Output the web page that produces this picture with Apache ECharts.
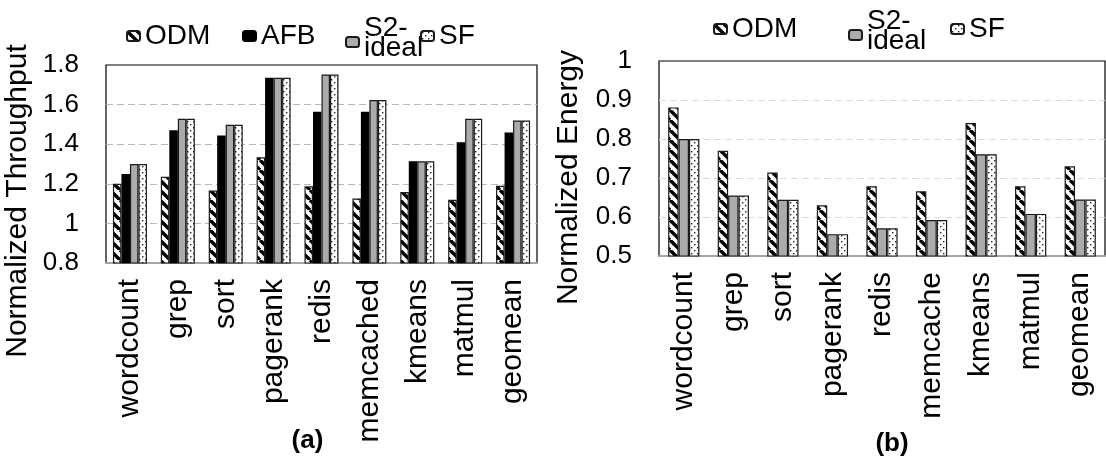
<!DOCTYPE html>
<html><head><meta charset="utf-8">
<script src="https://cdn.jsdelivr.net/npm/echarts@6/dist/echarts.min.js"></script>
<style>html,body{margin:0;padding:0;background:#fff}#c{width:1106px;height:458px}</style>
</head><body><div id="c"></div>
<script>
// ---- data ----
const catsT = ['wordcount','grep','sort','pagerank','redis','memcached','kmeans','matmul','geomean'];
const catsE = ['wordcount','grep','sort','pagerank','redis','memcache','kmeans','matmul','geomean'];
const odmT = [1.20, 1.235, 1.166, 1.334, 1.187, 1.126, 1.158, 1.119, 1.19];
const afbT = [1.25, 1.47, 1.444, 1.735, 1.564, 1.564, 1.314, 1.41, 1.459];
const s2T  = [1.30, 1.528, 1.498, 1.735, 1.752, 1.623, 1.314, 1.528, 1.52];
const sfT  = [1.30, 1.528, 1.498, 1.735, 1.752, 1.623, 1.314, 1.528, 1.52];
const odmE = [0.881, 0.770, 0.714, 0.630, 0.679, 0.666, 0.841, 0.679, 0.730];
const s2E  = [0.80, 0.655, 0.644, 0.556, 0.571, 0.592, 0.761, 0.608, 0.645];
const sfE  = [0.80, 0.655, 0.644, 0.556, 0.571, 0.592, 0.761, 0.608, 0.645];
const axisT = {min: 0.8, max: 1.8, interval: 0.2};
const axisE = {min: 0.5, max: 1.0, interval: 0.1};

// ---- patterns ----
function hatch() {
  const c = document.createElement('canvas'); c.width = 10; c.height = 10;
  const g = c.getContext('2d');
  g.fillStyle = '#fff'; g.fillRect(0, 0, 10, 10);
  g.strokeStyle = '#000'; g.lineWidth = 3.4;
  for (const k of [-10, 0, 10]) { g.beginPath(); g.moveTo(k, 0); g.lineTo(k + 10, 10); g.stroke(); }
  return {image: c, repeat: 'repeat'};
}
function dots() {
  const c = document.createElement('canvas'); c.width = 6; c.height = 6;
  const g = c.getContext('2d');
  g.fillStyle = '#fff'; g.fillRect(0, 0, 6, 6);
  g.fillStyle = '#222';
  g.fillRect(1, 1, 1.4, 1.4); g.fillRect(4, 4, 1.4, 1.4);
  return {image: c, repeat: 'repeat'};
}
const FONT = 'Liberation Sans, Arial, sans-serif';
const BC = '#1a1a1a';
const styles = {
  'ODM': {color: hatch(), borderColor: BC, borderWidth: 1.2},
  'AFB': {color: '#000', borderColor: '#000', borderWidth: 1.2},
  'S2-ideal': {color: '#ababab', borderColor: BC, borderWidth: 1.2},
  'SF': {color: dots(), borderColor: BC, borderWidth: 1.2}
};
function bar(name, data, idx, gap) {
  return {type: 'bar', name, data, xAxisIndex: idx, yAxisIndex: idx,
    barGap: '0%', barCategoryGap: gap, itemStyle: styles[name], silent: true, animation: false};
}
const LF = 28;
function legend(name, left, top, extra) {
  return Object.assign({data: [name], left, top, padding: 0, itemWidth: 13, itemHeight: 10,
    selectedMode: false, textStyle: {fontSize: LF, fontFamily: FONT, color: '#000', padding: [8, 0, 0, 0]}}, extra || {});
}
const s2Legend = {
  formatter: () => '{a|S2-}\n{b|ideal}',
  textStyle: {fontSize: LF, fontFamily: FONT, color: '#000', padding: [0, 0, 8, 0],
    rich: {a: {fontSize: LF, lineHeight: 20, fontFamily: FONT}, b: {fontSize: LF, lineHeight: 20, fontFamily: FONT}}}
};
function xAx(idx, cats, name, gap, pad) {
  return {type: 'category', gridIndex: idx, data: cats,
    axisLine: {show: true, lineStyle: {color: '#a6a6a6', width: 2}}, axisTick: {show: false},
    axisLabel: {rotate: 90, fontSize: 30, fontFamily: FONT, color: '#000', margin: 16, interval: 0},
    name, nameLocation: 'middle', nameGap: gap, nameMoveOverlap: false,
    nameTextStyle: {fontSize: 26, fontWeight: 'bold', fontFamily: FONT, color: '#000', padding: pad}};
}
function yAx(idx, a, name, gridColor, gap, pad) {
  return {type: 'value', gridIndex: idx, min: a.min, max: a.max, interval: a.interval,
    axisLine: {show: false}, axisTick: {show: false},
    axisLabel: {fontSize: 26, fontFamily: FONT, color: '#000', margin: 27},
    splitLine: {show: true, showMinLine: false, showMaxLine: false, lineStyle: {color: gridColor, type: [7, 4], width: 1.2}},
    name, nameLocation: 'middle', nameGap: gap, nameMoveOverlap: false,
    nameTextStyle: {fontSize: 30, fontFamily: FONT, color: '#000', padding: pad}};
}
const chart = echarts.init(document.getElementById('c'), null, {renderer: 'canvas'});
chart.setOption({
  animation: false,
  backgroundColor: '#fff',
  grid: [
    {left: 106, top: 65, width: 431, height: 198, show: true, borderColor: '#000', borderWidth: 1.2, outerBoundsMode: 'none', containLabel: false},
    {left: 659, top: 61, width: 446, height: 195, show: true, borderColor: '#000', borderWidth: 1.2, outerBoundsMode: 'none', containLabel: false}
  ],
  xAxis: [xAx(0, catsT, '(a)', 165, [0, 28, 0, 0]), xAx(1, catsE, '(b)', 175, [0, 0, 0, 20])],
  yAxis: [yAx(0, axisT, 'Normalized Throughput', '#b8b8b8', 73, [0, 74, 0, 0]),
          yAx(1, axisE, 'Normalized Energy', '#dcdcdc', 75, [0, 38, 0, 0])],
  legend: [
    legend('ODM', 126, 22), legend('AFB', 242, 22), legend('S2-ideal', 345, 14, s2Legend), legend('SF', 420, 22),
    legend('ODM', 713, 15), legend('S2-ideal', 848, 7, s2Legend), legend('SF', 950, 15)
  ],
  series: [
    bar('ODM', odmT, 0, '29%'), bar('AFB', afbT, 0, '29%'), bar('S2-ideal', s2T, 0, '29%'), bar('SF', sfT, 0, '29%'),
    bar('ODM', odmE, 1, '37%'), bar('S2-ideal', s2E, 1, '37%'), bar('SF', sfE, 1, '37%')
  ]
});
</script></body></html>
